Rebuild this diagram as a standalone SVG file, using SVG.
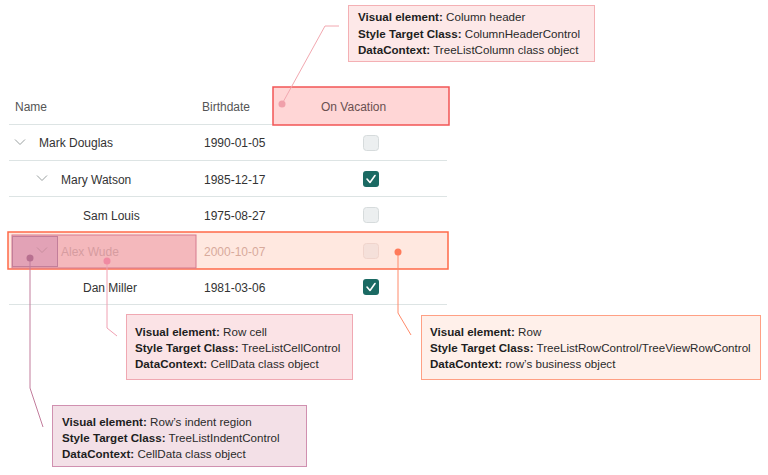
<svg xmlns="http://www.w3.org/2000/svg" width="768" height="475" viewBox="0 0 768 475">
<style>
text{font-family:"Liberation Sans",Arial,sans-serif;font-size:12px;fill:#333}
.co text{font-size:11.6px;fill:#2a2a2a}
.hd{fill:#555}
.b{font-weight:bold;fill:#1e1e1e}
.sep{stroke:#dde4e4;stroke-width:1}
.chev{fill:none;stroke:#9aa0a0;stroke-width:1}
.cb{fill:#eceff0;stroke:#d6dbdc;stroke-width:1}
.cbc{fill:#1b6a63}
.ck{fill:none;stroke:#fff;stroke-width:1.6;stroke-linecap:round;stroke-linejoin:round}
</style>
<rect width="768" height="475" fill="#fff"/>
<g id="grid">
  <text class="hd" x="15" y="111">Name</text>
  <text class="hd" x="202" y="111">Birthdate</text>
  <line class="sep" x1="9" y1="124.5" x2="447" y2="124.5"/>
  <line class="sep" x1="9" y1="160.5" x2="447" y2="160.5"/>
  <line class="sep" x1="9" y1="196.5" x2="447" y2="196.5"/>
  <line class="sep" x1="9" y1="232.5" x2="447" y2="232.5"/>
  <line class="sep" x1="9" y1="268.5" x2="447" y2="268.5"/>
  <line class="sep" x1="9" y1="304.5" x2="447" y2="304.5"/>
  <polyline class="chev" points="15,139.5 20,144.5 25,139.5"/>
  <text x="39" y="147">Mark Douglas</text>
  <text x="204" y="147">1990-01-05</text>
  <rect class="cb" x="363.5" y="135.5" width="15" height="15" rx="3"/>
  <polyline class="chev" points="37,175.5 42,180.5 47,175.5"/>
  <text x="61" y="184">Mary Watson</text>
  <text x="204" y="184">1985-12-17</text>
  <rect class="cbc" x="363" y="171" width="16" height="16" rx="3"/>
  <polyline class="ck" points="367,179 370,182.5 375,175.5"/>
  <text x="83" y="220">Sam Louis</text>
  <text x="204" y="220">1975-08-27</text>
  <rect class="cb" x="363.5" y="207.5" width="15" height="15" rx="3"/>
  <text x="83" y="292">Dan Miller</text>
  <text x="204" y="292">1981-03-06</text>
  <rect class="cbc" x="363" y="279" width="16" height="16" rx="3"/>
  <polyline class="ck" points="367,287 370,290.5 375,283.5"/>
</g>
<g id="column-header">
  <rect x="273" y="87" width="176" height="38" fill="#ffd6d6" stroke="#f25555" stroke-width="1.5"/>
  <text x="321" y="111" style="fill:#6a5050">On Vacation</text>
</g>
<g id="row">
  <rect x="8" y="232" width="440" height="37" fill="#ffe8e0" stroke="#ff6a48" stroke-width="1.5"/>
  <rect x="363.5" y="243.5" width="15" height="15" rx="3" fill="#f5e0da" stroke="#f0d4cc"/>
  <text x="204" y="256" style="fill:#d8aa9c">2000-10-07</text>
</g>
<g id="row-cell">
  <rect x="12" y="235" width="184" height="33" fill="#f4b8bc" stroke="#d67a8e" stroke-width="1"/>
  <text x="61" y="256" style="fill:#d69ca0">Alex Wude</text>
</g>
<g id="indent">
  <rect x="12.5" y="236.5" width="45" height="30" fill="#e2a2b6" stroke="#c27e9a" stroke-width="1"/>
  <polyline points="37,247.5 42,252.5 47,247.5" fill="none" stroke="#c88e9e" stroke-width="1"/>
</g>
<g id="connectors" fill="none" stroke-width="1">
  <polyline points="282,104 325,26 339,26" stroke="#f2a8b0"/>
  <circle cx="282" cy="104" r="3.5" fill="#f0a0aa" stroke="none"/>
  <polyline points="398,252 398,313 411,335" stroke="#ff8a6a"/>
  <circle cx="398" cy="252" r="3.5" fill="#ff7a5a" stroke="none"/>
  <polyline points="107,261 107,328 117,336" stroke="#f0a0b2"/>
  <circle cx="107" cy="261" r="3.5" fill="#f08aa2" stroke="none"/>
  <polyline points="30,258 30,388 43,427" stroke="#c27c9c"/>
  <circle cx="30" cy="258" r="3.5" fill="#b87090" stroke="none"/>
</g>
<g id="callout-column-header" class="co">
  <rect x="348.5" y="5.5" width="246" height="56" fill="#fde8e8" stroke="#f4b0b4"/>
  <text x="358" y="21"><tspan class="b">Visual element:</tspan> Column header</text>
  <text x="358" y="38"><tspan class="b">Style Target Class:</tspan> ColumnHeaderControl</text>
  <text x="358" y="54"><tspan class="b">DataContext:</tspan> TreeListColumn class object</text>
</g>
<g id="callout-row-cell" class="co">
  <rect x="126.5" y="314.5" width="226" height="65" fill="#fbe3e6" stroke="#f0a8b2"/>
  <text x="135" y="336"><tspan class="b">Visual element:</tspan> Row cell</text>
  <text x="135" y="352"><tspan class="b">Style Target Class:</tspan> TreeListCellControl</text>
  <text x="135" y="368"><tspan class="b">DataContext:</tspan> CellData class object</text>
</g>
<g id="callout-row" class="co">
  <rect x="421.5" y="315.5" width="339" height="64" fill="#fff0ea" stroke="#ffa084"/>
  <text x="430" y="336"><tspan class="b">Visual element:</tspan> Row</text>
  <text x="430" y="352"><tspan class="b">Style Target Class:</tspan> TreeListRowControl/TreeViewRowControl</text>
  <text x="430" y="368"><tspan class="b">DataContext:</tspan> row’s business object</text>
</g>
<g id="callout-indent" class="co">
  <rect x="52.5" y="405.5" width="254" height="61" fill="#f3e0e7" stroke="#d090b0"/>
  <text x="62" y="426"><tspan class="b">Visual element:</tspan> Row’s indent region</text>
  <text x="62" y="442"><tspan class="b">Style Target Class:</tspan> TreeListIndentControl</text>
  <text x="62" y="458"><tspan class="b">DataContext:</tspan> CellData class object</text>
</g>
</svg>
